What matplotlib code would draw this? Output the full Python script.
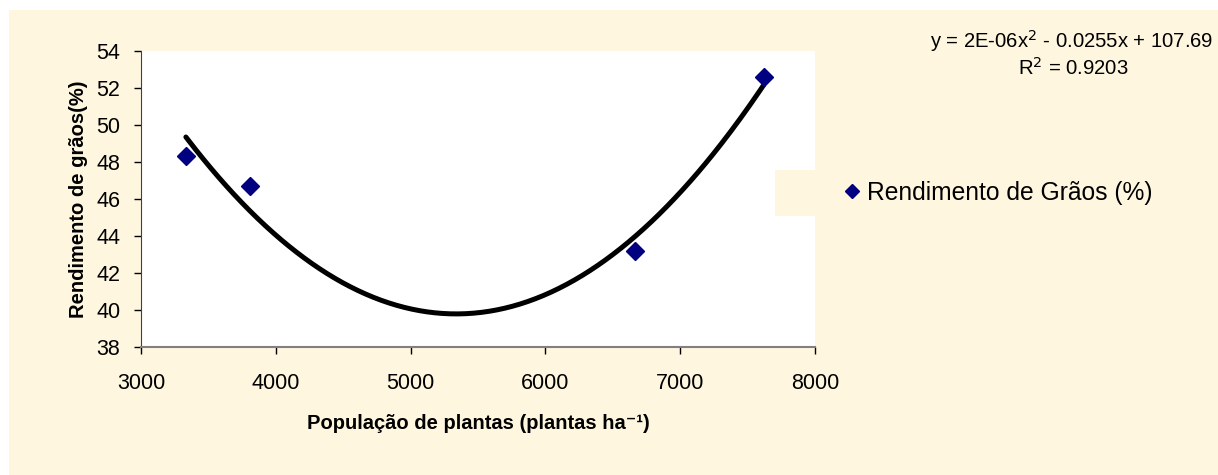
import numpy as np
import matplotlib
matplotlib.use("Agg")
import matplotlib.pyplot as plt
from matplotlib.patches import Rectangle

plt.rcParams['font.family'] = ['Liberation Sans', 'DejaVu Sans']

# Data
populacao = [3333, 3810, 6667, 7619]
rendimento = [48.3, 46.7, 43.2, 52.6]
x_ticks = [3000, 4000, 5000, 6000, 7000, 8000]
y_ticks = [38, 40, 42, 44, 46, 48, 50, 52, 54]
serie_label = "Rendimento de Grãos (%)"
eq_text = "y = 2E-06x$^2$ - 0.0255x + 107.69"
r2_text = "R$^2$ = 0.9203"

W, H = 1218, 475
cream = "#FEF6DF"
fig = plt.figure(figsize=(W / 100, H / 100), dpi=100, facecolor="white")
fig.patches.append(Rectangle((9 / W, 0), 1 - 9 / W, 1 - 10 / H, transform=fig.transFigure,
                             facecolor=cream, edgecolor="none", zorder=-10))

left, right, top, bottom = 141, 815, 50.7, 347
ax = fig.add_axes([left / W, 1 - bottom / H, (right - left) / W, (bottom - top) / H])
ax.set_facecolor("white")

# legend background box (overlapping plot area, as in the reference)
fig.patches.append(Rectangle((775 / W, 1 - 216 / H), 420 / W, 46 / H, transform=fig.transFigure,
                             facecolor=cream, edgecolor="none", zorder=1))

# trendline (2nd-order polynomial fit)
coef = np.polyfit(populacao, rendimento, 2)
xs = np.linspace(min(populacao), max(populacao), 300)
ax.plot(xs, np.polyval(coef, xs), color="black", lw=3.6, solid_capstyle="round", zorder=2)

ax.plot(populacao, rendimento, linestyle="none", marker="D", markersize=9,
        color="#000080", markeredgecolor="#000080", label=serie_label, zorder=3)

ax.set_xlim(3000, 8000)
ax.set_ylim(38, 54)
ax.set_xticks(x_ticks)
ax.set_yticks(y_ticks)
ax.tick_params(direction="out", length=5, width=1, labelsize=15.5, colors="black")
ax.tick_params(axis="x", pad=14)
ax.tick_params(axis="y", pad=10)
for s in ["top", "right"]:
    ax.spines[s].set_visible(False)
ax.spines["left"].set_color("#404040")
ax.spines["bottom"].set_color("#808080")
ax.spines["bottom"].set_linewidth(1.5)

ax.set_xlabel("População de plantas (plantas ha⁻¹)", fontsize=14.5, fontweight="bold", labelpad=14)
ax.set_ylabel("Rendimento de grãos(%)", fontsize=14.5, fontweight="bold", labelpad=6)

fig.text(1072 / W, 1 - 41 / H, eq_text, ha="center", va="center", fontsize=14.6)
fig.text(1073 / W, 1 - 68 / H, r2_text, ha="center", va="center", fontsize=14.6)

leg = fig.legend(loc="center left", bbox_to_anchor=(844.6 / W, 1 - 193 / H), frameon=False,
                 fontsize=17.7, handlelength=0.6, handletextpad=0.3, borderpad=0,
                 borderaxespad=0, markerscale=0.8)
leg.set_zorder(5)

fig.savefig("out.png", dpi=100, facecolor="white")
